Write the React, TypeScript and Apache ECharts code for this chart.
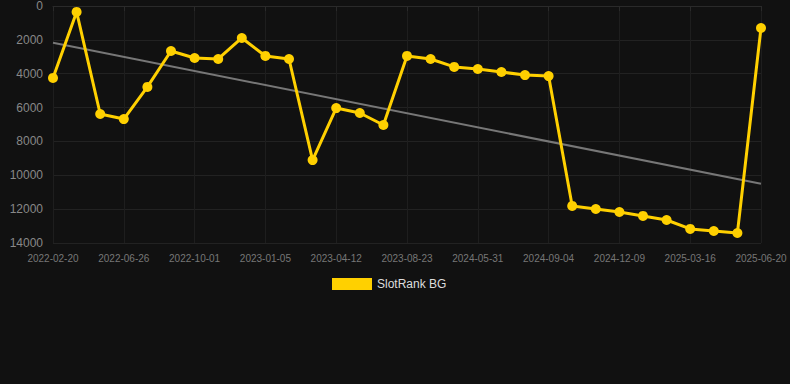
import React, { useEffect, useRef } from "react";
import * as echarts from "echarts";

const categories = [
  "2022-02-20", "2022-03-27", "2022-05-01", "2022-06-26", "2022-07-28", "2022-08-30",
  "2022-10-01", "2022-11-02", "2022-12-04", "2023-01-05", "2023-02-09", "2023-03-08",
  "2023-04-12", "2023-05-20", "2023-07-01", "2023-08-23", "2023-11-15", "2024-02-20",
  "2024-05-31", "2024-07-02", "2024-08-03", "2024-09-04", "2024-10-06", "2024-11-07",
  "2024-12-09", "2025-01-10", "2025-02-12", "2025-03-16", "2025-04-17", "2025-05-19",
  "2025-06-20",
];

const rankValues = [
  4250, 350, 6380, 6680, 4780, 2660, 3070, 3130, 1890, 2950, 3130, 9100, 6030, 6320, 7030, 2950,
  3130, 3600, 3720, 3900, 4080, 4140, 11810, 11990, 12170, 12400, 12640, 13170, 13290, 13410,
  1300,
];

const trendEnds = [2170, 10500];

const yTicks = { min: 0, max: 14000, interval: 2000 };

export default function App() {
  const ref = useRef<HTMLDivElement>(null);
  useEffect(() => {
    if (!ref.current) return;
    const chart = echarts.init(ref.current, undefined, { renderer: "svg" });
    const trendData = categories.map((_, i) =>
      i === 0 ? trendEnds[0] : i === categories.length - 1 ? trendEnds[1] : null
    );
    chart.setOption({
      animation: false,
      backgroundColor: "#111111",
      grid: { left: 53, right: 29, top: 6, bottom: 141 },
      legend: {
        data: ["SlotRank BG"],
        top: 273,
        left: 327,
        itemWidth: 40,
        itemHeight: 12,
        itemGap: 6,
        icon: "rect",
        textStyle: { color: "#dddddd", fontSize: 12, fontFamily: "Arial, Liberation Sans, sans-serif" },
      },
      xAxis: {
        type: "category",
        data: categories,
        boundaryGap: false,
        axisLine: { lineStyle: { color: "#2a2a2a" } },
        axisTick: { show: true, interval: 2, lineStyle: { color: "#2a2a2a" } },
        axisLabel: {
          interval: 2,
          color: "#777777",
          fontSize: 10,
          margin: 10,
          fontFamily: "Arial, Liberation Sans, sans-serif",
        },
        splitLine: { show: true, interval: 2, lineStyle: { color: "#1e1e1e" } },
      },
      yAxis: {
        type: "value",
        inverse: true,
        min: yTicks.min,
        max: yTicks.max,
        interval: yTicks.interval,
        axisLine: { show: false },
        axisTick: { show: false },
        axisLabel: {
          color: "#888888",
          fontSize: 12,
          margin: 10,
          formatter: (v: number) => String(v),
          fontFamily: "Arial, Liberation Sans, sans-serif",
        },
        splitLine: { lineStyle: { color: "#222222" } },
      },
      series: [
        {
          name: "SlotRank BG",
          type: "line",
          data: rankValues,
          color: "#FFD000",
          lineStyle: { color: "#FFD000", width: 3 },
          itemStyle: { color: "#FFD000" },
          symbol: "circle",
          symbolSize: 10,
          z: 3,
        },
        {
          name: "Trend",
          type: "line",
          data: trendData,
          connectNulls: true,
          symbol: "none",
          lineStyle: { color: "#777777", width: 2 },
          itemStyle: { color: "#777777" },
          z: 2,
        },
      ],
    });
    return () => chart.dispose();
  }, []);
  return <div ref={ref} style={{ width: 790, height: 384, position: "absolute", left: 0, top: 0 }} />;
}
